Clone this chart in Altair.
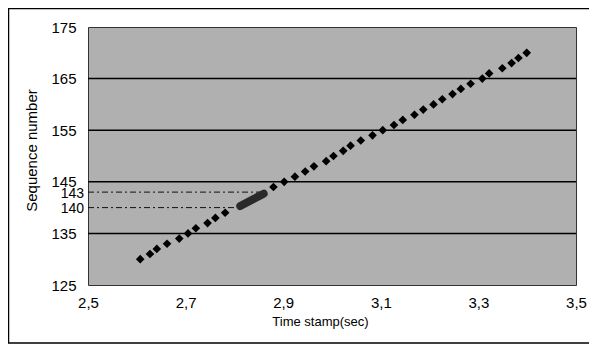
import altair as alt
import pandas as pd

# ---- data ----
seq_numbers = [130, 131, 132, 133, 134, 135, 136, 137, 138, 139,
               144, 145, 146, 147, 148, 149, 150, 151, 152, 153,
               154, 155, 156, 157, 158, 159, 160, 161, 162, 163,
               164, 165, 166, 167, 168, 169, 170]
time_stamps = [2.607, 2.627, 2.641, 2.662, 2.687, 2.705, 2.721, 2.745, 2.761, 2.781,
               2.880, 2.902, 2.924, 2.945, 2.963, 2.988, 3.003, 3.023, 3.038, 3.059,
               3.083, 3.104, 3.127, 3.145, 3.169, 3.187, 3.208, 3.226, 3.247, 3.264,
               3.284, 3.308, 3.322, 3.349, 3.368, 3.382, 3.399]

# burst of packets 140..143 drawn as an elongated blob
blob_time = [2.812, 2.860]
blob_seq = [140.3, 142.7]

# dash-dot reference lines
ref_seq = [140, 140, 143, 143]
ref_time = [2.5, 2.805, 2.5, 2.86]
ref_group = ["a", "a", "b", "b"]

grid_values = [135, 145, 155, 165]
y_ticks = [125, 135, 145, 155, 165, 175]
extra_labels = [143, 140]
x_ticks = [2.5, 2.7, 2.9, 3.1, 3.3, 3.5]

FONT = "Liberation Sans"

xscale = alt.Scale(domain=[2.5, 3.5], nice=False, zero=False)
yscale = alt.Scale(domain=[125, 175], nice=False, zero=False)

pts = pd.DataFrame({"t": time_stamps, "s": seq_numbers})
blob = pd.DataFrame({"t": blob_time, "s": blob_seq})
refs = pd.DataFrame({"t": ref_time, "s": ref_seq, "g": ref_group})
grid = pd.DataFrame({"s": grid_values})
extra = pd.DataFrame({"s": extra_labels, "lab": [str(v) for v in extra_labels]})
frame = pd.DataFrame({"a": [0]})

x_axis = alt.Axis(values=x_ticks, format=".1f",
                  labelExpr="replace(datum.label, '.', ',')",
                  grid=False, ticks=False, domain=False, labelFlush=False,
                  labelFont=FONT, labelFontSize=15, labelColor="#000",
                  labelPadding=10,
                  title="Time stamp(sec)", titleFont=FONT, titleFontSize=13,
                  titleFontWeight="normal", titleColor="#000",
                  titleX=232, titleY=36, titleBaseline="middle")
y_axis = alt.Axis(values=y_ticks, grid=False, ticks=False, domain=False,
                  labelFlush=False,
                  labelFont=FONT, labelFontSize=15, labelColor="#000",
                  labelPadding=12,
                  title="Sequence number", titleFont=FONT, titleFontSize=15,
                  titleFontWeight="normal", titleColor="#000",
                  titleX=-57, titleY=123, titleAlign="center",
                  titleBaseline="middle", titleAngle=270)

base_x = alt.X("t:Q", scale=xscale, axis=x_axis)
base_y = alt.Y("s:Q", scale=yscale, axis=y_axis)

grid_rules = alt.Chart(grid).mark_rule(color="#000", strokeWidth=1.5).encode(
    y=alt.Y("s:Q", scale=yscale, axis=y_axis)
)

ref_lines = alt.Chart(refs).mark_line(color="#111", strokeWidth=1,
                                      strokeDash=[6, 3, 2, 3]).encode(
    x=base_x, y=base_y, detail="g:N"
)

blob_line = alt.Chart(blob).mark_line(color="#2a2a2a", strokeWidth=8,
                                      strokeCap="round").encode(
    x=base_x, y=base_y
)

points = alt.Chart(pts).mark_point(shape="diamond", filled=True, color="#000",
                                   size=75, opacity=1).encode(
    x=base_x, y=base_y
)

extra_text = alt.Chart(extra).mark_text(align="right", baseline="middle",
                                        font=FONT, fontSize=14, dy=1.5,
                                        color="#000").encode(
    x=alt.value(-4), y=alt.Y("s:Q", scale=yscale), text="lab:N"
)

frame_rect = alt.Chart(frame).mark_rect(fill=None, stroke="#000", strokeWidth=1.5).encode(
    x=alt.value(-79.5), x2=alt.value(520),
    y=alt.value(-18.5), y2=alt.value(316)
)

chart = alt.layer(frame_rect, grid_rules, ref_lines, blob_line, points, extra_text).properties(
    width=488, height=258,
    padding={"left": 80, "top": 19, "right": 13, "bottom": 59},
    autosize=alt.AutoSizeParams(type="none"),
    background="#ffffff",
).configure_view(fill="#b0b0b0", stroke="#333", strokeWidth=1)

chart.save("out.html", embed_options={"renderer": "svg", "actions": False})
